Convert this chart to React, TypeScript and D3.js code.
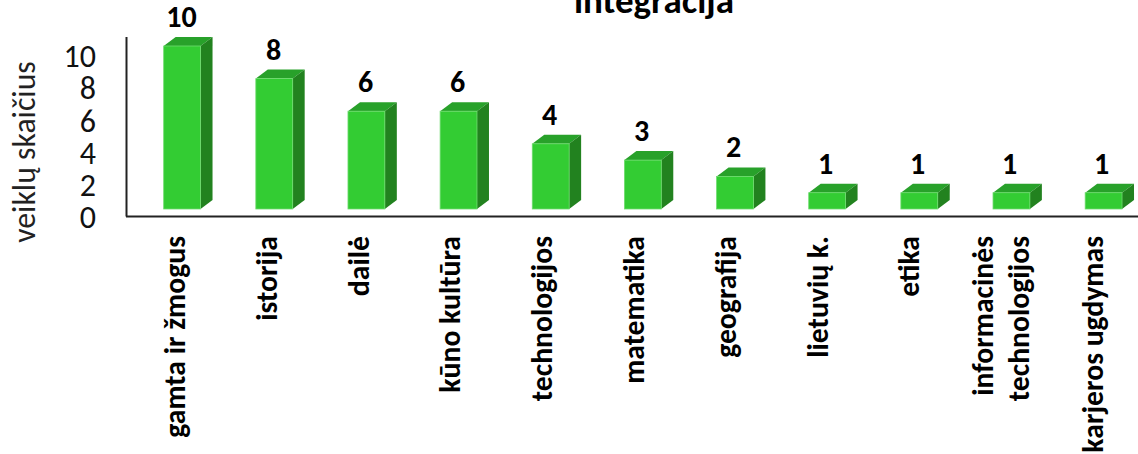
import React from "react";
import * as d3 from "d3";

const categories = ["gamta ir žmogus","istorija","dailė","kūno kultūra","technologijos","matematika","geografija","lietuvių k.","etika","informacinės|technologijos","karjeros ugdymas"];
const values = [10,8,6,6,4,3,2,1,1,1,1];
const yTicks = [0,2,4,6,8,10];

const W = 1138, H = 454;
const x = d3.scaleBand<string>().domain(categories).range([117.6, 1168.1]).paddingInner(0.6).paddingOuter(0.5);
const labelX = d3.scalePoint<string>().domain(categories).range([185, 1103]);
const valueX = d3.scalePoint<string>().domain(categories).range([181.5, 1101.5]);
const y = d3.scaleLinear().domain([0, 10]).range([209, 46]);
const tickY = d3.scaleLinear().domain([0, 10]).range([217, 56]);
const dx = 12, dy = 9;
const font = "Carlito, Lato, 'Open Sans', sans-serif";
const poly = (pts: number[][]) => (d3.line()(pts as [number, number][]) as string) + "Z";

export default function App() {
  return (
    <svg width={W} height={H} style={{ position: "absolute", left: 0, top: 0, background: "#fff" }} fontFamily={font}>
      <text x={654} y={13} textAnchor="middle" fontSize={37} fontWeight={700} fill="#000">integracija</text>
      <text transform={`translate(35,152) rotate(-90)`} textAnchor="middle" fontSize={31.8} fill="#222">veiklų skaičius</text>
      {yTicks.map(t => (
        <text key={t} x={96} y={tickY(t)} dy="0.35em" textAnchor="end" fontSize={32} fill="#111">{t}</text>
      ))}
      <line x1={126.5} x2={126.5} y1={37} y2={216.5} stroke="#222" strokeWidth={2} />
      <line x1={126} x2={1138} y1={216.5} y2={216.5} stroke="#222" strokeWidth={2} />
      {categories.map((c, i) => {
        const x0 = x(c)!, w = x.bandwidth(), x1 = x0 + w, t = y(values[i]), b = y(0);
        return (
          <g key={c}>
            <path d={poly([[x0, t], [x0 + dx, t - dy], [x1 + dx, t - dy], [x1, t]])} fill="#28a12a" />
            <path d={poly([[x1, t], [x1 + dx, t - dy], [x1 + dx, b - dy], [x1, b]])} fill="#22821f" />
            <rect x={x0} y={t} width={w} height={b - t} fill="#33cc33" stroke="#6fdc6f" strokeWidth={0.8} />
            <text x={valueX(c)!} y={t - 19} textAnchor="middle" fontSize={30} fontWeight={700} fill="#000">{values[i]}</text>
          </g>
        );
      })}
      {categories.map((c) => {
        const lines = c.split("|");
        return lines.map((l, j) => (
          <text key={l} transform={`translate(${labelX(c)! + (lines.length === 2 ? (j === 0 ? -18 : 18) : 0)},236) rotate(-90)`}
            textAnchor="end" fontSize={29.7} fontWeight={700} fill="#000">{l}</text>
        ));
      })}
    </svg>
  );
}
